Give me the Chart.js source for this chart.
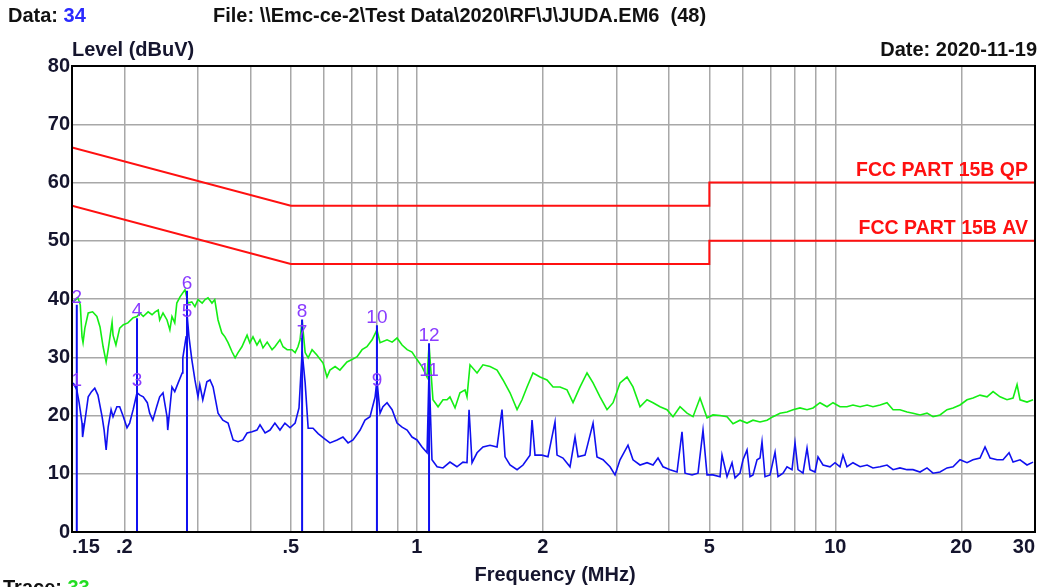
<!DOCTYPE html>
<html>
<head>
<meta charset="utf-8">
<script src="https://cdn.jsdelivr.net/npm/chart.js@4.4.1/dist/chart.umd.min.js"></script>
<style>
  html, body { margin: 0; padding: 0; background: #fff; }
  #wrap { width: 1055px; height: 587px; }
</style>
</head>
<body>
<div id="wrap"><canvas id="emcChart" width="1055" height="587"></canvas></div>
<script>
// Frequency grid / tick labels (MHz)
const xGridValues = [0.15, 0.2, 0.3, 0.4, 0.5, 0.6, 0.7, 0.8, 0.9, 1, 2, 3, 4, 5, 6, 7, 8, 9, 10, 20, 30];
const xTickLabels = { 0.15: ".15", 0.2: ".2", 0.5: ".5", 1: "1", 2: "2", 5: "5", 10: "10", 20: "20", 30: "30" };

// FCC Part 15B limits
const limitFreqs = [0.15, 0.5, 5, 5, 30];
const qpLimit = [66, 56, 56, 60, 60];
const avLimit = [56, 46, 46, 50, 50];

// Peak scan (green)
const peakFreqs = [0.151, 0.155, 0.157, 0.1585, 0.1594, 0.161, 0.164, 0.168, 0.172, 0.175, 0.178, 0.181, 0.183, 0.187, 0.188, 0.191, 0.195, 0.199, 0.204, 0.210,
  0.2145, 0.218, 0.222, 0.228, 0.233, 0.237, 0.241, 0.243, 0.2475, 0.253, 0.257, 0.260, 0.264, 0.267, 0.272, 0.2793, 0.284, 0.290, 0.295, 0.300,
  0.307, 0.312, 0.317, 0.324, 0.329, 0.335, 0.342, 0.348, 0.354, 0.362, 0.368, 0.374, 0.382, 0.393, 0.399, 0.406, 0.415, 0.422, 0.429, 0.439,
  0.451, 0.458, 0.471, 0.479, 0.490, 0.503, 0.512, 0.520, 0.526, 0.532, 0.541, 0.550, 0.562, 0.577, 0.597, 0.610, 0.620, 0.638, 0.655, 0.681,
  0.700, 0.720, 0.740, 0.760, 0.782, 0.803, 0.817, 0.849, 0.873, 0.897, 0.922, 0.948, 0.974, 1.001, 1.029, 1.058, 1.0696, 1.093, 1.124, 1.155,
  1.181, 1.200, 1.234, 1.268, 1.304, 1.318, 1.340, 1.393, 1.439, 1.496, 1.555, 1.607, 1.670, 1.736, 1.784, 1.834, 1.895, 1.970, 2.047, 2.116,
  2.199, 2.285, 2.362, 2.455, 2.551, 2.637, 2.740, 2.848, 2.944, 3.059, 3.179, 3.285, 3.415, 3.549, 3.668, 3.812, 3.961, 4.094, 4.255, 4.422,
  4.571, 4.750, 4.937, 5.102, 5.303, 5.511, 5.696, 5.919, 6.152, 6.358, 6.608, 6.868, 7.098, 7.377, 7.666, 7.923, 8.234, 8.558, 8.845, 9.192,
  9.553, 9.874, 10.26, 10.66, 11.02, 11.46, 11.91, 12.30, 12.79, 13.29, 13.74, 14.27, 14.84, 15.33, 15.94, 16.56, 17.12, 17.79, 18.49, 19.11,
  19.86, 20.64, 21.33, 22.17, 23.04, 23.82, 24.75, 25.72, 26.59, 27.18, 27.63, 28.71, 29.68];
const peakLevels = [39.5, 40.2, 39.0, 33.5, 32.5, 35.0, 37.6, 37.8, 37.0, 35.2, 31.8, 29.2, 31.3, 36.0, 33.8, 32.1, 35.0, 35.6, 35.9, 36.8,
  37.0, 37.6, 37.0, 37.8, 37.3, 37.8, 38.1, 36.4, 37.6, 36.4, 34.7, 37.0, 35.9, 39.3, 40.4, 41.6, 39.3, 39.5, 38.7, 39.9,
  39.3, 39.9, 40.2, 39.3, 39.9, 36.4, 34.2, 33.5, 32.5, 30.9, 29.9, 30.8, 31.8, 33.8, 32.5, 33.5, 32.1, 33.0, 31.6, 32.6,
  31.3, 31.8, 33.0, 31.8, 31.3, 31.3, 30.8, 31.8, 33.0, 36.4, 30.8, 29.9, 31.3, 30.4, 29.0, 26.6, 27.8, 28.4, 27.8, 29.2,
  29.6, 30.1, 31.3, 31.8, 33.0, 34.7, 32.5, 33.0, 32.6, 33.3, 32.1, 31.3, 30.9, 29.6, 28.4, 26.6, 32.1, 22.7, 21.5, 22.7,
  22.7, 23.2, 21.3, 23.9, 24.4, 23.2, 28.7, 27.3, 28.7, 28.4, 27.8, 26.1, 23.9, 21.0, 22.7, 24.9, 27.3, 26.6, 26.1, 24.9,
  24.9, 24.4, 22.2, 24.9, 27.3, 25.6, 23.2, 21.0, 22.2, 25.6, 26.6, 24.9, 21.5, 22.7, 22.2, 21.5, 21.0, 19.8, 21.5, 20.4,
  19.8, 23.0, 19.6, 20.1, 20.0, 19.8, 18.6, 19.2, 18.7, 19.2, 18.9, 19.2, 19.8, 20.4, 20.6, 21.0, 21.3, 21.0, 21.3, 22.2,
  21.5, 22.2, 21.5, 21.5, 21.8, 21.5, 21.8, 21.5, 21.8, 22.2, 21.0, 21.0, 20.6, 20.4, 20.1, 20.4, 19.8, 20.1, 21.0, 21.3,
  21.8, 22.7, 23.0, 23.5, 23.2, 24.1, 23.2, 22.7, 23.0, 25.3, 22.7, 22.3, 22.7];

// Average scan (blue)
const avgFreqs = [0.151, 0.154, 0.156, 0.1585, 0.159, 0.162, 0.164, 0.167, 0.170, 0.173, 0.177, 0.179, 0.181, 0.183, 0.186, 0.188, 0.192, 0.195, 0.199, 0.203,
  0.206, 0.210, 0.2145, 0.218, 0.222, 0.227, 0.230, 0.234, 0.239, 0.243, 0.2475, 0.253, 0.254, 0.260, 0.264, 0.269, 0.275, 0.276, 0.281, 0.2824,
  0.2855, 0.290, 0.295, 0.300, 0.303, 0.308, 0.315, 0.3205, 0.326, 0.335, 0.344, 0.354, 0.364, 0.374, 0.384, 0.393, 0.404, 0.415, 0.422, 0.434,
  0.446, 0.458, 0.471, 0.484, 0.498, 0.512, 0.523, 0.532, 0.541, 0.550, 0.565, 0.581, 0.597, 0.620, 0.645, 0.666, 0.685, 0.704, 0.732, 0.752,
  0.773, 0.795, 0.803, 0.817, 0.830, 0.849, 0.873, 0.897, 0.922, 0.948, 0.974, 1.001, 1.029, 1.058, 1.0696, 1.087, 1.118, 1.155, 1.200, 1.247,
  1.289, 1.318, 1.333, 1.355, 1.393, 1.439, 1.496, 1.555, 1.598, 1.625, 1.670, 1.736, 1.794, 1.864, 1.885, 1.916, 1.991, 2.058, 2.139, 2.163,
  2.235, 2.323, 2.388, 2.428, 2.523, 2.637, 2.695, 2.786, 2.895, 2.976, 3.059, 3.196, 3.285, 3.415, 3.549, 3.668, 3.770, 3.875, 4.027, 4.186,
  4.302, 4.374, 4.546, 4.698, 4.829, 4.937, 5.102, 5.303, 5.361, 5.511, 5.665, 5.759, 5.919, 6.018, 6.152, 6.254, 6.358, 6.500, 6.608, 6.681,
  6.792, 6.982, 7.177, 7.296, 7.500, 7.666, 7.880, 8.011, 8.144, 8.371, 8.558, 8.700, 8.943, 9.092, 9.345, 9.712, 9.983, 10.26, 10.43, 10.66,
  11.02, 11.46, 11.91, 12.30, 12.79, 13.29, 13.74, 14.27, 14.84, 15.33, 15.94, 16.56, 17.12, 17.79, 18.49, 19.11, 19.86, 20.64, 21.33, 22.17,
  22.79, 23.43, 24.35, 25.16, 26.01, 26.59, 27.63, 28.71, 29.68];
const avgLevels = [25.6, 24.4, 22.2, 18.7, 16.3, 20.4, 23.2, 24.1, 24.7, 23.5, 19.8, 17.5, 14.1, 18.0, 21.0, 19.8, 21.5, 21.5, 19.8, 17.9,
  18.7, 21.0, 23.9, 23.5, 23.2, 22.2, 20.4, 19.2, 21.5, 23.2, 23.9, 19.8, 17.5, 24.9, 24.1, 25.6, 27.3, 29.9, 33.5, 37.5,
  33.5, 29.6, 26.1, 23.2, 25.3, 22.7, 25.8, 26.1, 24.9, 20.4, 19.2, 18.7, 15.8, 15.5, 15.8, 17.0, 17.2, 17.5, 18.4, 17.0,
  17.5, 18.7, 17.5, 18.7, 17.9, 18.7, 21.3, 31.0, 25.6, 17.8, 17.8, 16.9, 16.2, 15.3, 15.8, 16.3, 15.3, 15.8, 17.5, 19.2,
  19.8, 23.2, 26.1, 20.4, 21.5, 22.2, 21.0, 18.7, 18.0, 17.5, 16.3, 15.8, 14.6, 13.6, 27.8, 12.4, 11.2, 11.0, 12.0, 11.2,
  12.0, 11.9, 21.0, 11.9, 13.6, 14.6, 14.9, 14.6, 21.0, 12.9, 11.5, 10.7, 11.5, 13.2, 19.2, 13.2, 13.2, 12.9, 18.9, 13.2,
  12.7, 11.2, 16.3, 12.9, 13.2, 18.7, 12.9, 12.4, 11.2, 9.8, 12.4, 14.9, 12.4, 11.5, 11.9, 11.5, 12.7, 11.2, 10.7, 10.3,
  17.2, 10.1, 9.8, 10.1, 17.5, 9.8, 9.8, 9.5, 13.2, 9.5, 11.9, 9.3, 10.1, 12.4, 14.1, 9.5, 9.8, 12.4, 12.7, 15.5,
  9.5, 9.8, 13.7, 9.5, 10.1, 11.2, 10.7, 15.3, 10.7, 10.1, 14.4, 10.7, 10.3, 12.9, 11.5, 11.2, 11.9, 11.2, 13.2, 11.2,
  11.9, 11.2, 11.5, 11.0, 11.2, 11.5, 10.7, 11.0, 10.7, 10.7, 10.3, 11.0, 10.1, 10.3, 11.0, 11.2, 12.4, 11.9, 12.4, 12.7,
  14.6, 12.7, 12.4, 12.4, 13.6, 12.0, 12.4, 11.5, 12.0];

// Markers 1..12 (odd = average, even = peak)
const markerNums = ["1", "2", "3", "4", "5", "6", "7", "8", "9", "10", "11", "12"];
const markerFreqs = [0.154, 0.154, 0.2145, 0.2145, 0.2824, 0.2824, 0.532, 0.532, 0.803, 0.803, 1.0696, 1.0696];
const markerLevels = [24.7, 39.0, 24.7, 36.7, 36.6, 41.4, 33.0, 36.5, 24.7, 35.5, 26.4, 32.4];

const toPoints = (xs, ys) => xs.map((f, i) => ({ x: f, y: ys[i] }));

// marker stems: from 0 up to the peak marker, broken with nulls
const stemPoints = [];
markerFreqs.forEach((f, i) => {
    if (i % 2 === 1) {
        stemPoints.push({ x: f, y: 0 }, { x: f, y: markerLevels[i] }, { x: f, y: null });
    }
});

const AXIS_TEXT = "#15152e";
const FONT = "'Liberation Sans', Arial, sans-serif";

// draws frame, headers, axis titles, limit names and marker numbers
const decorPlugin = {
    id: "decor",
    afterDraw(chart) {
        const { ctx, chartArea: area, scales } = chart;
        const xs = scales.x, ys = scales.y;
        ctx.save();
        ctx.strokeStyle = "#000";
        ctx.lineWidth = 2;
        ctx.strokeRect(area.left, area.top, area.width, area.height);

        ctx.textBaseline = "middle";
        ctx.font = "bold 20px " + FONT;
        ctx.textAlign = "left";
        ctx.fillStyle = "#111";
        ctx.fillText("Data:", 8, 16);
        let w = ctx.measureText("Data: ").width;
        ctx.fillStyle = "#2a2aff";
        ctx.fillText("34", 8 + w, 16);
        ctx.fillStyle = "#111";
        ctx.fillText("File: \\\\Emc-ce-2\\Test Data\\2020\\RF\\J\\JUDA.EM6  (48)", 213, 16);

        ctx.fillStyle = AXIS_TEXT;
        ctx.fillText("Level (dBuV)", 72, 50);
        ctx.textAlign = "right";
        ctx.fillStyle = "#111";
        ctx.fillText("Date: 2020-11-19", 1037, 50);

        ctx.textAlign = "center";
        ctx.fillStyle = AXIS_TEXT;
        ctx.fillText("Frequency (MHz)", 555, 575);

        ctx.textAlign = "left";
        ctx.fillStyle = "#111";
        ctx.fillText("Trace:", 3, 588);
        w = ctx.measureText("Trace: ").width;
        ctx.fillStyle = "#22dd22";
        ctx.fillText("33", 3 + w, 588);

        // limit names
        ctx.font = "bold 19.5px " + FONT;
        ctx.fillStyle = "#ff1010";
        ctx.textAlign = "right";
        ctx.textBaseline = "bottom";
        ctx.fillText("FCC PART 15B QP", xs.getPixelForValue(30) - 7, ys.getPixelForValue(qpLimit[4]) - 2);
        ctx.fillText("FCC PART 15B AV", xs.getPixelForValue(30) - 7, ys.getPixelForValue(avLimit[4]) - 2);

        // marker numbers
        ctx.font = "19px " + FONT;
        ctx.fillStyle = "#8a3cff";
        ctx.textAlign = "center";
        markerNums.forEach((n, i) => {
            ctx.fillText(n, xs.getPixelForValue(markerFreqs[i]), ys.getPixelForValue(markerLevels[i]) + 2);
        });
        ctx.restore();
    }
};

const ctx = document.getElementById("emcChart").getContext("2d");
new Chart(ctx, {
    type: "line",
    data: {
        datasets: [
            { data: stemPoints, borderColor: "#1010f0", borderWidth: 2, pointRadius: 0, spanGaps: false },
            { data: toPoints(avgFreqs, avgLevels), borderColor: "#1010f0", borderWidth: 1.6, pointRadius: 0 },
            { data: toPoints(peakFreqs, peakLevels), borderColor: "#14ee14", borderWidth: 1.6, pointRadius: 0 },
            { data: toPoints(limitFreqs, qpLimit), borderColor: "#ff1010", borderWidth: 2, pointRadius: 0 },
            { data: toPoints(limitFreqs, avLimit), borderColor: "#ff1010", borderWidth: 2, pointRadius: 0 }
        ]
    },
    options: {
        responsive: false,
        animation: false,
        layout: { padding: { top: 66, right: 20, left: 0, bottom: 0 } },
        plugins: { legend: { display: false }, tooltip: { enabled: false } },
        elements: { line: { tension: 0 } },
        scales: {
            x: {
                type: "logarithmic",
                min: 0.15,
                max: 30,
                afterBuildTicks: (axis) => { axis.ticks = xGridValues.map(v => ({ value: v })); },
                afterFit: (axis) => { axis.height = 55; },
                grid: { color: "#a8a8a8", lineWidth: 1.5, drawTicks: false },
                border: { display: false },
                ticks: {
                    autoSkip: false,
                    maxRotation: 0,
                    align: "inner",
                    padding: 3,
                    color: AXIS_TEXT,
                    font: { family: FONT, size: 20, weight: "bold" },
                    callback: (v) => xTickLabels[v] || ""
                }
            },
            y: {
                min: 0,
                max: 80,
                afterFit: (axis) => { axis.width = 72; },
                grid: { color: "#a8a8a8", lineWidth: 1.5, drawTicks: false },
                border: { display: false },
                ticks: {
                    stepSize: 10,
                    padding: 2,
                    color: AXIS_TEXT,
                    font: { family: FONT, size: 20, weight: "bold" }
                }
            }
        }
    },
    plugins: [decorPlugin]
});
</script>
</body>
</html>
